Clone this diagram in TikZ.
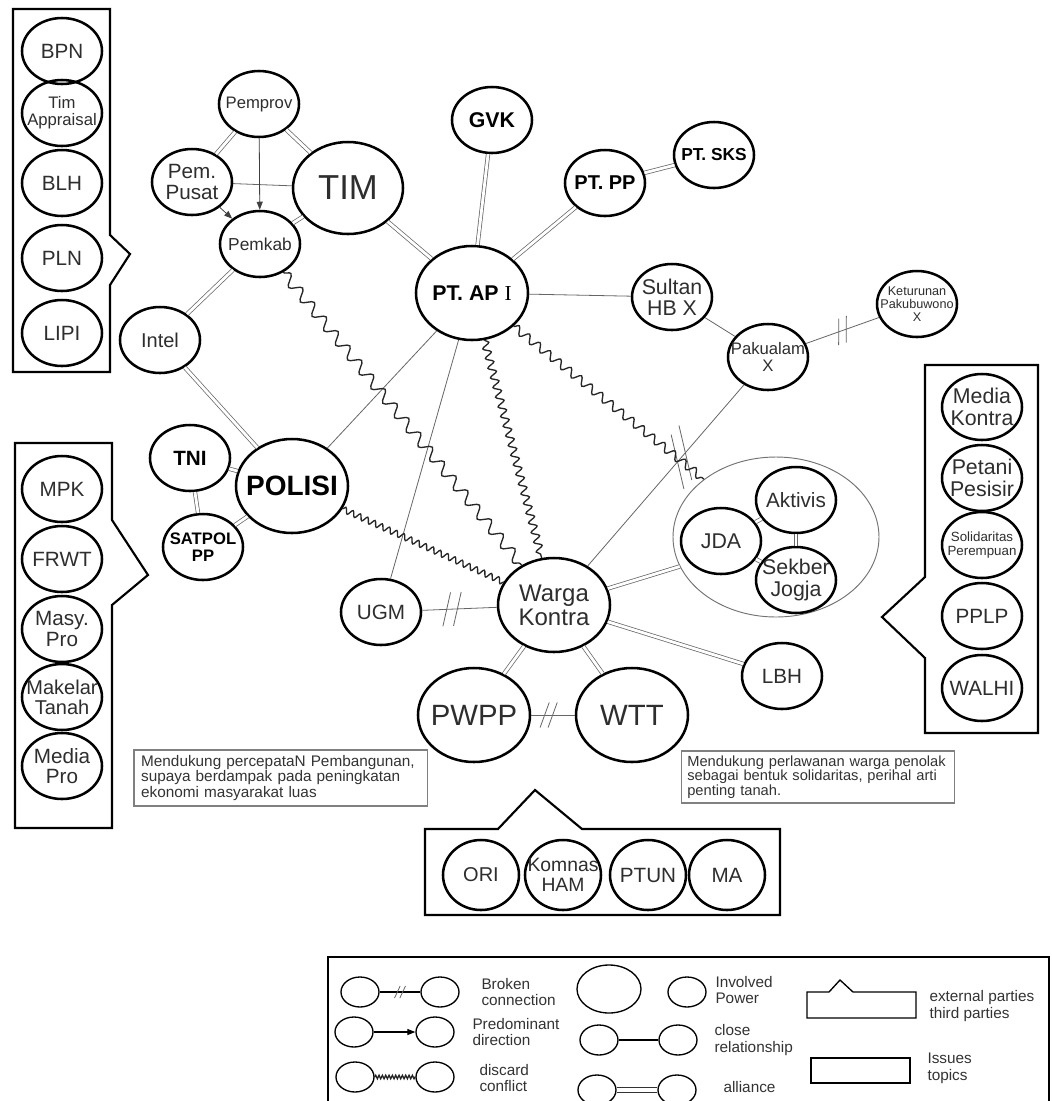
\documentclass[tikz,border=0pt]{standalone}
\usepackage{fontspec}
\setmainfont{Liberation Sans}
\newfontfamily\romanfont{Liberation Serif}
\usetikzlibrary{shapes.geometric,arrows.meta,decorations.pathmorphing,decorations.markings}

\tikzset{every picture/.style={line width=0.75pt}}
\tikzset{
  party/.style={ellipse, draw=black, line width=1.9pt, inner xsep=-8pt, inner ysep=-4pt, align=center, text=black!82, minimum width=60pt, minimum height=49.5pt},
  bigparty/.style={party, minimum width=84pt, minimum height=70.5pt},
  lawparty/.style={party, minimum width=57pt, minimum height=52.5pt},
  fsz/.style={font=\fontsize{#1}{#1}\selectfont},
  fbold/.style={text=black, font=\bfseries\fontsize{#1}{#1}\selectfont},
  allyline/.style={draw=black!60, line width=0.55pt, double, double distance=2.1pt},
  tieline/.style={draw=black!60, line width=0.6pt},
  dirline/.style={tieline, draw=black!75, -{Triangle[length=6pt,width=4.5pt]}},
  fightline/.style 2 args={draw=black!85, line width=1pt, decorate, decoration={snake, amplitude=#1, segment length=#2}},
  brokenline/.style n args={4}{tieline, postaction={decorate, decoration={markings, mark=at position #1 with {\draw [tieline, shift={(-#4,0)}, rotate=#2] (0,-#3) -- (0,#3); \draw [tieline, shift={(#4,0)}, rotate=#2] (0,-#3) -- (0,#3);}}}},
  panel/.style={draw=black, line width=1.6pt},
  issuebox/.style={draw=black!50, line width=0.8pt, align=left, inner ysep=0pt, text=black!80},
  legdot/.style={ellipse, draw=black, line width=1pt, inner sep=0pt, minimum width=28.5pt, minimum height=22.5pt},
  legtext/.style={anchor=west, align=left, inner sep=0pt, text=black!80, font=\fontsize{11.5}{12.5}\selectfont},
}

\begin{document}
\begin{tikzpicture}[x=0.75pt,y=0.75pt,yscale=-1,xscale=1]
\fill [white] (0,0) rectangle (1051,1101);
\useasboundingbox (0,0) rectangle (1051,1101);

%Shape: Panel left top
\draw [panel] (13,9) -- (110,9) -- (110,235) -- (130,254) -- (110,285) -- (110,372) -- (13,372) -- cycle ;
\node [party, fsz=15.5] (bpn) at (62,51) {BPN};
\node [party, fsz=12.5] (appraisal) at (62,113) {Tim\\Appraisal};
\node [party, fsz=15.5] (blh) at (62,183) {BLH};
\node [party, fsz=15.5] (pln) at (62,258) {PLN};
\node [party, fsz=15.5] (lipi) at (62,333) {LIPI};

%Shape: Panel left middle
\draw [panel] (15,443) -- (112,443) -- (112,520) -- (148,575) -- (112,605) -- (112,828) -- (15,828) -- cycle ;
\node [party, fsz=15.5] (mpk) at (62,489) {MPK};
\node [party, fsz=15.5] (frwt) at (62,559) {FRWT};
\node [party, fsz=15.5] (masypro) at (62,629) {Masy.\\Pro};
\node [party, fsz=15] (makelar) at (62,697) {Makelar\\Tanah};
\node [party, fsz=15.5] (mediapro) at (62,766) {Media\\Pro};

%Shape: Panel right
\draw [panel] (925,365) -- (1038,365) -- (1038,733) -- (925,733) -- (925,658) -- (882,617) -- (925,577) -- cycle ;
\node [party, fsz=16] (mediakontra) at (982,407) {Media\\Kontra};
\node [party, fsz=16] (petani) at (982,478) {Petani\\Pesisir};
\node [party, fsz=10] (solidaritas) at (982,545) {Solidaritas\\Perempuan};
\node [party, fsz=15.5] (pplp) at (982,616) {PPLP};
\node [party, fsz=15.5] (walhi) at (982,688) {WALHI};

%Shape: Panel bottom
\draw [panel] (425,829) -- (498,829) -- (535,790) -- (582,829) -- (780,829) -- (780,915) -- (425,915) -- cycle ;
\node [lawparty, fsz=15] (ori) at (481,875) {ORI};
\node [lawparty, fsz=14.5] (komnas) at (563,875) {Komnas\\HAM};
\node [lawparty, fsz=15.5] (ptun) at (648,875) {PTUN};
\node [lawparty, fsz=15.5] (ma) at (727,875) {MA};

%Shape: Ellipse actors
\node [party, fsz=12.5] (pemprov) at (259,104) {Pemprov};
\node [party, fsz=15.5] (pempusat) at (192,182) {Pem.\\Pusat};
\node [bigparty, fsz=26, minimum width=82.5pt, minimum height=69pt] (tim) at (348,188) {TIM};
\node [party, fsz=13] (pemkab) at (260,244) {Pemkab};
\node [party, fsz=15] (intel) at (160,340) {Intel};
\node [party, fbold=16] (gvk) at (492,120) {GVK};
\node [party, fbold=15] (ptpp) at (605,183) {PT. PP};
\node [party, fbold=13] (ptsks) at (714,155) {PT. SKS};
\node [bigparty, fbold=16] (ptap) at (472,293) {PT. AP {\romanfont\mdseries I}};
\node [party, fsz=16] (sultan) at (672,297) {Sultan\\HB X};
\node [party, fsz=12.5] (pakualam) at (768,357) {Pakualam\\X};
\node [party, fsz=9.5] (keturunan) at (917,304) {Keturunan\\Pakubuwono\\X};
\node [party, fbold=15.5] (tni) at (190,458) {TNI};
\node [bigparty, fbold=21] (polisi) at (292,486) {POLISI};
\node [party, fbold=12.5] (satpol) at (203,547) {SATPOL\\PP};
\node [party, fsz=15.5] (ugm) at (381,612) {UGM};
\node [bigparty, fsz=18] (warga) at (554,605) {Warga\\Kontra};
\node [ellipse, draw=black!55, line width=0.7pt, minimum width=154.5pt, minimum height=120pt, inner sep=0pt] (jdagroup) at (776,537) {};
\node [party, fsz=15.5] (aktivis) at (796,500) {Aktivis};
\node [party, fsz=16] (jda) at (721,541) {JDA};
\node [party, fsz=16] (sekber) at (796,580) {Sekber\\Jogja};
\node [party, fsz=15.5] (lbh) at (782,676) {LBH};
\node [bigparty, fsz=22] (pwpp) at (474,715) {PWPP};
\node [bigparty, fsz=22] (wtt) at (632,715) {WTT};

% Text Node
\node [issuebox, font=\fontsize{11.5}{11.5}\selectfont, text width=209pt, inner xsep=5.4pt, minimum height=42pt] (issuepro) at (280.5,778) {Mendukung percepataN Pembangunan,\\supaya berdampak pada peningkatan\\ekonomi masyarakat luas};
% Text Node
\node [issuebox, font=\fontsize{11}{11}\selectfont, text width=196pt, inner xsep=4.7pt, minimum height=39pt] (issuecontra) at (818,777) {Mendukung perlawanan warga penolak\\sebagai bentuk solidaritas, perihal arti\\penting tanah.};

%Straight Lines alliance
\draw [allyline] (pemprov) -- (pempusat);
\draw [allyline] (pemprov) -- (tim);
\draw [allyline] (tim) -- (pemkab);
\draw [allyline] (tim) -- (ptap);
\draw [allyline] (pemkab) -- (intel);
\draw [allyline] (intel) -- (polisi);
\draw [allyline] (tni) -- (polisi);
\draw [allyline] (tni) -- (satpol);
\draw [allyline] (satpol) -- (polisi);
\draw [allyline] (gvk) -- (ptap);
\draw [allyline] (ptpp) -- (ptap);
\draw [allyline] (ptpp) -- (ptsks);
\draw [allyline] (jda) -- (aktivis);
\draw [allyline] (jda) -- (sekber);
\draw [allyline] (aktivis) -- (sekber);
\draw [allyline] (warga) -- (jdagroup);
\draw [allyline] (warga) -- (lbh);
\draw [allyline] (warga) -- (pwpp);
\draw [allyline] (warga) -- (wtt);
%Straight Lines close
\draw [tieline] (pempusat) -- (tim);
\draw [tieline] (ptap) -- (sultan);
\draw [tieline] (sultan) -- (pakualam);
\draw [tieline] (ptap) -- (polisi);
\draw [tieline] (ptap) -- (ugm);
%Straight Lines direction
\draw [dirline] (pemprov) -- (pemkab);
\draw [dirline] (pempusat) -- (pemkab);
%Straight Lines broken
\draw [brokenline={0.5}{-20}{10pt}{3pt}] (pakualam) -- (keturunan);
\draw [brokenline={0.4}{-36}{21pt}{4.5pt}] (pakualam) -- (warga);
\draw [brokenline={0.4}{-15}{13pt}{4pt}] (ugm) -- (warga);
\draw [brokenline={0.4}{-20}{10pt}{3pt}] (pwpp) -- (wtt);
%Curve Lines conflict
\draw [fightline={4pt}{14pt}] (pemkab) -- (warga);
\draw [fightline={2.2pt}{6pt}] (polisi) -- (warga);
\draw [fightline={2.8pt}{7.5pt}] (ptap) -- (warga);
\draw [fightline={3pt}{10pt}] (ptap) -- (jdagroup);

%Shape: Legend
\draw [panel, line width=1.4pt] (328,957) rectangle (1049,1120);
\node [legdot] (brokA) at (360,992) {};
\node [legdot] (brokB) at (440,992) {};
\node [legdot] (dirA) at (354,1032) {};
\node [legdot] (dirB) at (435,1032) {};
\node [legdot] (fightA) at (355,1077) {};
\node [legdot] (fightB) at (435,1077) {};
\node [legdot, minimum width=48pt, minimum height=36pt] (powerbig) at (609,989) {};
\node [legdot] (powersmall) at (687,992) {};
\node [legdot] (tieA) at (599,1040) {};
\node [legdot] (tieB) at (678,1040) {};
\node [legdot] (allyA) at (597,1090) {};
\node [legdot] (allyB) at (677,1090) {};
\draw [brokenline={0.5}{-25}{5pt}{2pt}, draw=black, line width=0.8pt] (brokA) -- (brokB);
\draw [dirline, draw=black, line width=0.9pt] (dirA) -- (dirB);
\draw [fightline={1.3pt}{2.5pt}] (fightA) -- (fightB);
\draw [tieline, draw=black, line width=0.9pt] (tieA) -- (tieB);
\draw [allyline, draw=black!80, double distance=3pt] (allyA) -- (allyB);
\draw [line width=1pt] (807,992) -- (829,992) -- (840,980) -- (853,992) -- (916,992) -- (916,1018) -- (807,1018) -- cycle ;
\draw [line width=1pt] (811,1058) rectangle (910,1083);
% Text Node
\node [legtext] (lbroken) at (481,992) {Broken\\connection};
\node [legtext] (ldir) at (472,1032) {Predominant\\direction};
\node [legtext] (lfight) at (479,1078) {discard\\conflict};
\node [legtext] (lpower) at (715,990) {Involved\\Power};
\node [legtext] (ltie) at (714,1040) {close\\relationship};
\node [legtext] (lally) at (723,1087) {alliance};
\node [legtext] (lexternal) at (929,1006) {external parties\\third parties};
\node [legtext] (lissue) at (927,1068) {Issues\\topics};

\end{tikzpicture}
\end{document}
